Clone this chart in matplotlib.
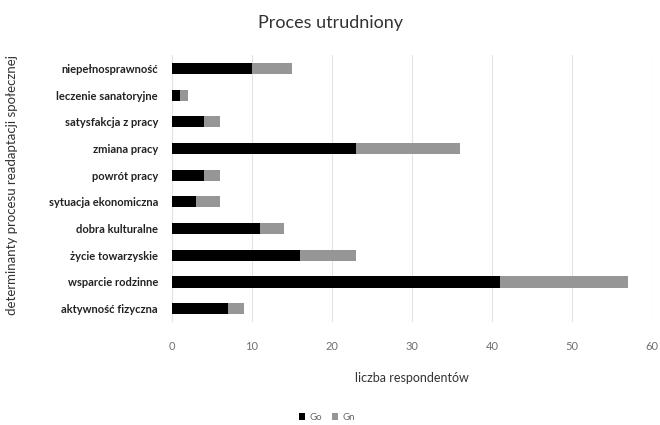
import matplotlib.pyplot as plt

# data (bottom -> top)
categories = ['aktywność fizyczna', 'wsparcie rodzinne', 'życie towarzyskie',
              'dobra kulturalne', 'sytuacja ekonomiczna', 'powrót pracy',
              'zmiana pracy', 'satysfakcja z pracy', 'leczenie sanatoryjne',
              'niepełnosprawność']
go = [7, 41, 16, 11, 3, 4, 23, 4, 1, 10]
gn = [2, 16, 7, 3, 3, 2, 13, 2, 1, 5]
xticks = [0, 10, 20, 30, 40, 50, 60]

plt.rcParams['font.family'] = ['Lato', 'DejaVu Sans']

fig = plt.figure(figsize=(6.6, 4.25), dpi=100)
ax = fig.add_axes([0.2606, 0.2424, 0.7273, 0.628])

y = range(len(categories))
ax.barh(y, go, height=0.42, color='black', label='Go')
ax.barh(y, gn, left=go, height=0.42, color='#969696', label='Gn')

ax.set_xlim(0, 60)
ax.set_ylim(-0.5, len(categories) - 0.5)
ax.set_xticks(xticks)
ax.set_yticks(list(y))
ax.set_yticklabels(categories, fontsize=8, fontweight='bold', color='#222222')
ax.tick_params(axis='x', labelsize=8, colors='#707070', length=0, pad=14)
ax.tick_params(axis='y', length=0, pad=10)
ax.grid(axis='x', color='#e3e3e3', linewidth=0.8)
ax.set_axisbelow(True)
for s in ax.spines.values():
    s.set_visible(False)

ax.set_xlabel('liczba respondentów', fontsize=9, color='#333333', labelpad=14)
fig.text(0.018, 0.565, 'determinanty procesu readaptacji społecznej', rotation=90,
         ha='center', va='center', fontsize=9.5, color='#333333')
fig.text(0.5, 0.945, 'Proces utrudniony', ha='center', va='center',
         fontsize=13, color='#333333')

fig.legend(loc='center', bbox_to_anchor=(0.495, 0.017), ncol=2, frameon=False,
           fontsize=7, handlelength=0.7, handleheight=0.7, columnspacing=1.0,
           handletextpad=0.4, labelcolor='#666666')

fig.savefig('out.png', dpi=100)
